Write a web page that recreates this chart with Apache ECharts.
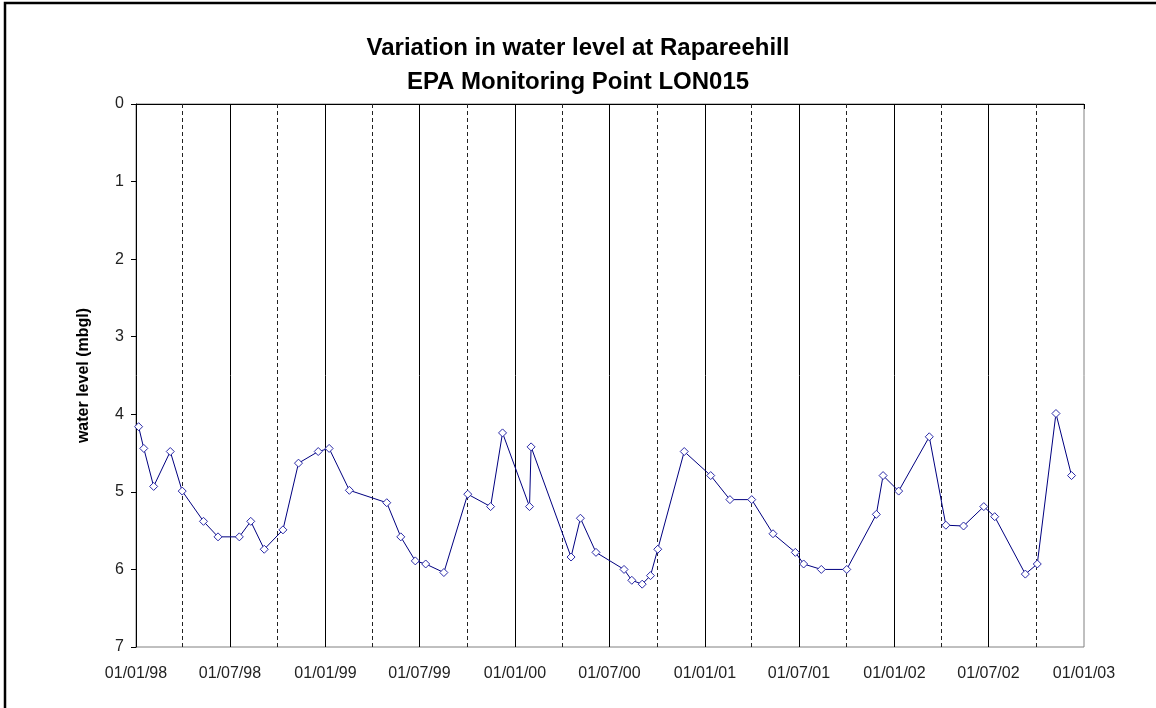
<!DOCTYPE html>
<html>
<head>
<meta charset="utf-8">
<script src="https://cdn.jsdelivr.net/npm/echarts@6/dist/echarts.min.js"></script>
<style>
html,body{margin:0;padding:0;background:#fff;}
#chart{width:1156px;height:708px;}
</style>
</head>
<body>
<div id="chart"></div>
<script>
const titleLines = ['Variation in water level at Rapareehill', 'EPA Monitoring Point LON015'];
const yAxisTitle = 'water level (mbgl)';

const sampleDates = [
  '1998-01-06','1998-01-16','1998-02-04','1998-03-08','1998-03-31','1998-05-11','1998-06-08','1998-07-19',
  '1998-08-10','1998-09-05','1998-10-11','1998-11-10','1998-12-18','1999-01-08','1999-02-16','1999-04-29',
  '1999-05-26','1999-06-23','1999-07-13','1999-08-17','1999-10-02','1999-11-15','1999-12-08','2000-01-29',
  '2000-02-01','2000-04-18','2000-05-06','2000-06-05','2000-07-29','2000-08-13','2000-09-02','2000-09-18',
  '2000-10-02','2000-11-22','2001-01-12','2001-02-18','2001-04-01','2001-05-12','2001-06-24','2001-07-10',
  '2001-08-13','2001-10-01','2001-11-27','2001-12-10','2002-01-09','2002-03-09','2002-04-10','2002-05-14',
  '2002-06-22','2002-07-13','2002-09-10','2002-10-03','2002-11-08','2002-12-08'
];
const waterLevels = [
  4.16, 4.44, 4.93, 4.48, 4.99, 5.38, 5.58, 5.58,
  5.38, 5.74, 5.49, 4.63, 4.48, 4.44, 4.98, 5.14,
  5.58, 5.89, 5.93, 6.04, 5.03, 5.19, 4.24, 5.19,
  4.42, 5.84, 5.34, 5.78, 6.00, 6.14, 6.19, 6.08,
  5.74, 4.48, 4.79, 5.10, 5.10, 5.54, 5.78, 5.93,
  6.00, 6.00, 5.29, 4.79, 4.99, 4.29, 5.43, 5.44,
  5.19, 5.32, 6.06, 5.93, 3.99, 4.79
];

const xTickDates = ['1998-01-01','1998-07-01','1999-01-01','1999-07-01','2000-01-01','2000-07-01',
  '2001-01-01','2001-07-01','2002-01-01','2002-07-01','2003-01-01'];
const solidLineDates = ['1998-07-01','1999-01-01','1999-07-01','2000-01-01','2000-07-01',
  '2001-01-01','2001-07-01','2002-01-01','2002-07-01'];
const dashedLineDates = ['1998-04-01','1998-10-01','1999-04-01','1999-10-01','2000-04-01','2000-10-01',
  '2001-04-01','2001-10-01','2002-04-01','2002-10-01'];
const yTicks = [0, 1, 2, 3, 4, 5, 6, 7];

// parse 'YYYY-MM-DD' as UTC milliseconds
const t = s => { const p = s.split('-').map(Number); return Date.UTC(p[0], p[1] - 1, p[2]); };
const fmt = v => { const d = new Date(v); const z = n => String(n).padStart(2, '0');
  return z(d.getUTCDate()) + '/' + z(d.getUTCMonth() + 1) + '/' + z(d.getUTCFullYear() % 100); };
const FONT = '"Liberation Sans", Arial, sans-serif';

const chart = echarts.init(document.getElementById('chart'), null, {renderer: 'canvas'});

const markData = []
  .concat(solidLineDates.map(d => ({xAxis: t(d), lineStyle: {type: 'solid', color: '#000', width: 1}})))
  .concat(dashedLineDates.map(d => ({xAxis: t(d), lineStyle: {type: [4, 3], color: '#222', width: 1}})));

chart.setOption({
  animation: false,
  backgroundColor: '#fff',
  title: {
    text: titleLines.join('\n'),
    left: 'center',
    top: 26,
    textStyle: {fontFamily: FONT, fontSize: 24, fontWeight: 'bold', color: '#000', lineHeight: 34}
  },
  graphic: [{
    type: 'rect',
    shape: {x: 5, y: 3, width: 1400, height: 1000},
    style: {fill: 'none', stroke: '#000', lineWidth: 2.5},
    silent: true
  }],
  grid: {left: 136, top: 104, right: 72, bottom: 61, show: true, borderColor: '#808080', borderWidth: 1, backgroundColor: 'transparent'},
  xAxis: {
    type: 'value',
    min: t(xTickDates[0]),
    max: t(xTickDates[xTickDates.length - 1]),
    axisLine: {show: true, lineStyle: {color: '#000', width: 1}},
    axisTick: {show: true, length: 5, lineStyle: {color: '#000'}, customValues: xTickDates.map(t)},
    axisLabel: {
      customValues: xTickDates.map(t),
      formatter: v => fmt(v),
      fontFamily: FONT, fontSize: 16, color: '#222', margin: 19, hideOverlap: false,
      showMinLabel: true, showMaxLabel: true
    },
    splitLine: {show: false}
  },
  yAxis: {
    type: 'value',
    inverse: true,
    min: yTicks[0],
    max: yTicks[yTicks.length - 1],
    interval: 1,
    name: yAxisTitle,
    nameLocation: 'middle',
    nameGap: 44,
    nameRotate: 90,
    nameTextStyle: {fontFamily: FONT, fontSize: 16, fontWeight: 'bold', color: '#000'},
    axisLine: {show: true, lineStyle: {color: '#000', width: 1}},
    axisTick: {show: true, length: 5, lineStyle: {color: '#000'}},
    axisLabel: {fontFamily: FONT, fontSize: 16, color: '#222', margin: 12},
    splitLine: {show: false}
  },
  series: [{
    type: 'line',
    data: sampleDates.map((d, i) => [t(d), waterLevels[i]]),
    symbol: 'diamond',
    symbolSize: 8,
    showAllSymbol: true,
    lineStyle: {color: '#000080', width: 1},
    itemStyle: {color: '#fff', borderColor: '#2a2aa8', borderWidth: 1},
    z: 5,
    markLine: {
      silent: true,
      symbol: ['none', 'none'],
      label: {show: false},
      animation: false,
      data: markData,
      z: 1
    }
  }]
});
</script>
</body>
</html>
